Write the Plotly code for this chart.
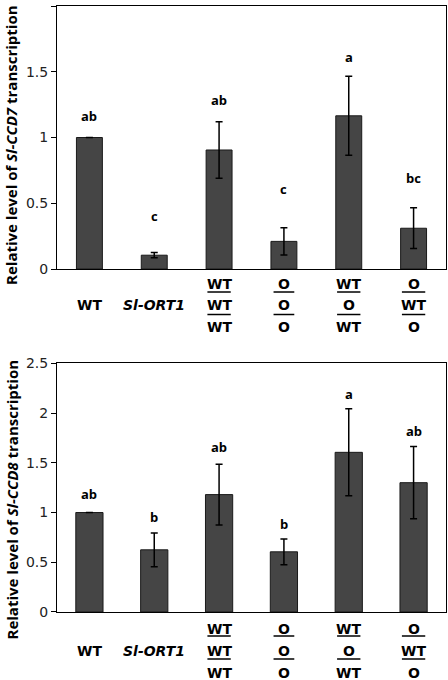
import plotly.graph_objects as go

# ---- data ----
categories = ["WT", "Sl-ORT1", "WT/WT/WT", "O/O/O", "WT/O/WT", "O/WT/O"]
label_rows = [["WT"], ["<i>Sl-ORT1</i>"], ["WT", "WT", "WT"], ["O", "O", "O"],
              ["WT", "O", "WT"], ["O", "WT", "O"]]

ccd7_mean = [1.00, 0.105, 0.905, 0.21, 1.165, 0.31]
ccd7_err = [0.0, 0.02, 0.215, 0.104, 0.30, 0.155]
ccd7_letters = ["ab", "c", "ab", "c", "a", "bc"]
ccd7_letter_y = [1.16, 0.405, 1.285, 0.61, 1.61, 0.69]

ccd8_mean = [1.00, 0.625, 1.18, 0.605, 1.605, 1.30]
ccd8_err = [0.0, 0.17, 0.305, 0.13, 0.437, 0.363]
ccd8_letters = ["ab", "b", "ab", "b", "a", "ab"]
ccd8_letter_y = [1.185, 0.954, 1.663, 0.884, 2.19, 1.82]

ccd7_ticks = [0, 0.5, 1, 1.5, 2]
ccd8_ticks = [0, 0.5, 1, 1.5, 2, 2.5]

# ---- style ----
FONT = "Open Sans"
LABEL_FONT = "DejaVu Sans"
BAR = "#454545"
xpos = list(range(len(categories)))

fig = go.Figure()

panels = [
    dict(mean=ccd7_mean, err=ccd7_err, letters=ccd7_letters, ly=ccd7_letter_y,
         ticks=ccd7_ticks, rng=[0, 2], xa="x", ya="y", width=0.40,
         title="<b>Relative level of <i>Sl-CCD7</i> transcription</b>",
         rows_px=[14.5, 36, 58], lines_px=[23, 45.5], title_y=0.7715),
    dict(mean=ccd8_mean, err=ccd8_err, letters=ccd8_letters, ly=ccd8_letter_y,
         ticks=ccd8_ticks, rng=[0, 2.5], xa="x2", ya="y2", width=0.42,
         title="<b>Relative level of <i>Sl-CCD8</i> transcription</b>",
         rows_px=[17, 38.5, 61], lines_px=[24, 47], title_y=0.1865),
]

annotations = []
shapes = []
for p in panels:
    fig.add_trace(go.Bar(
        x=xpos, y=p["mean"], width=p["width"], xaxis=p["xa"], yaxis=p["ya"],
        marker=dict(color=BAR, line=dict(color="#1a1a1a", width=1)),
        error_y=dict(type="data", array=p["err"], visible=True, color="black",
                     thickness=1.5, width=3.5),
        showlegend=False, hoverinfo="skip",
    ))
    for i, (lt, yv) in enumerate(zip(p["letters"], p["ly"])):
        annotations.append(dict(x=i, y=yv, xref=p["xa"], yref=p["ya"], text="<b>%s</b>" % lt,
                                showarrow=False, yanchor="middle",
                                font=dict(family=FONT, size=13, color="black")))
    for i, rows in enumerate(label_rows):
        if len(rows) == 1:
            offs = [p["rows_px"][1]]
        else:
            offs = p["rows_px"]
        for txt, off in zip(rows, offs):
            annotations.append(dict(x=i, y=0, xref=p["xa"], yref=p["ya"] + " domain",
                                    text="<b>%s</b>" % txt, showarrow=False,
                                    yanchor="middle", yshift=-off,
                                    font=dict(family=LABEL_FONT, size=14, color="black")))
        if len(rows) > 1:
            half = 0.18 if "WT" in rows else 0.16
            for off in p["lines_px"]:
                shapes.append(dict(type="line", xref=p["xa"], yref=p["ya"] + " domain",
                                   x0=i - half, x1=i + half, ysizemode="pixel", yanchor=0,
                                   y0=-off, y1=-off,
                                   line=dict(color="black", width=1.5)))
    annotations.append(dict(x=-0.117, y=p["title_y"], xref="paper", yref="paper",
                            text=p["title"], textangle=-90, showarrow=False,
                            xanchor="center", yanchor="middle",
                            font=dict(family=FONT, size=15, color="black")))

yaxis_common = dict(showline=True, linecolor="black", linewidth=1, mirror=True,
                    ticks="outside", ticklen=5, tickcolor="black", showgrid=False,
                    zeroline=False, automargin=False,
                    tickfont=dict(family=LABEL_FONT, size=14, color="#222"))
xaxis_common = dict(showline=True, linecolor="black", linewidth=1, mirror=True,
                    showticklabels=False, ticks="", showgrid=False, zeroline=False,
                    automargin=False, range=[-0.5, 5.5], fixedrange=True)

fig.update_layout(
    width=448, height=680,
    margin=dict(l=57, r=2, t=6, b=68, autoexpand=False),
    paper_bgcolor="white", plot_bgcolor="white",
    bargap=0.6,
    xaxis=dict(domain=[0, 1], anchor="y", **xaxis_common),
    yaxis=dict(domain=[0.566, 1.0], anchor="x", range=[0, 2], tickvals=ccd7_ticks,
               ticktext=[str(t) for t in ccd7_ticks], **yaxis_common),
    xaxis2=dict(domain=[0, 1], anchor="y2", **xaxis_common),
    yaxis2=dict(domain=[0, 0.4104], anchor="x2", range=[0, 2.5], tickvals=ccd8_ticks,
                ticktext=[str(t) for t in ccd8_ticks], **yaxis_common),
    annotations=annotations,
    shapes=shapes,
)

fig.write_html("out.html", config={"displayModeBar": False},
               post_script="document.body.style.margin='0';document.body.style.padding='0';")
